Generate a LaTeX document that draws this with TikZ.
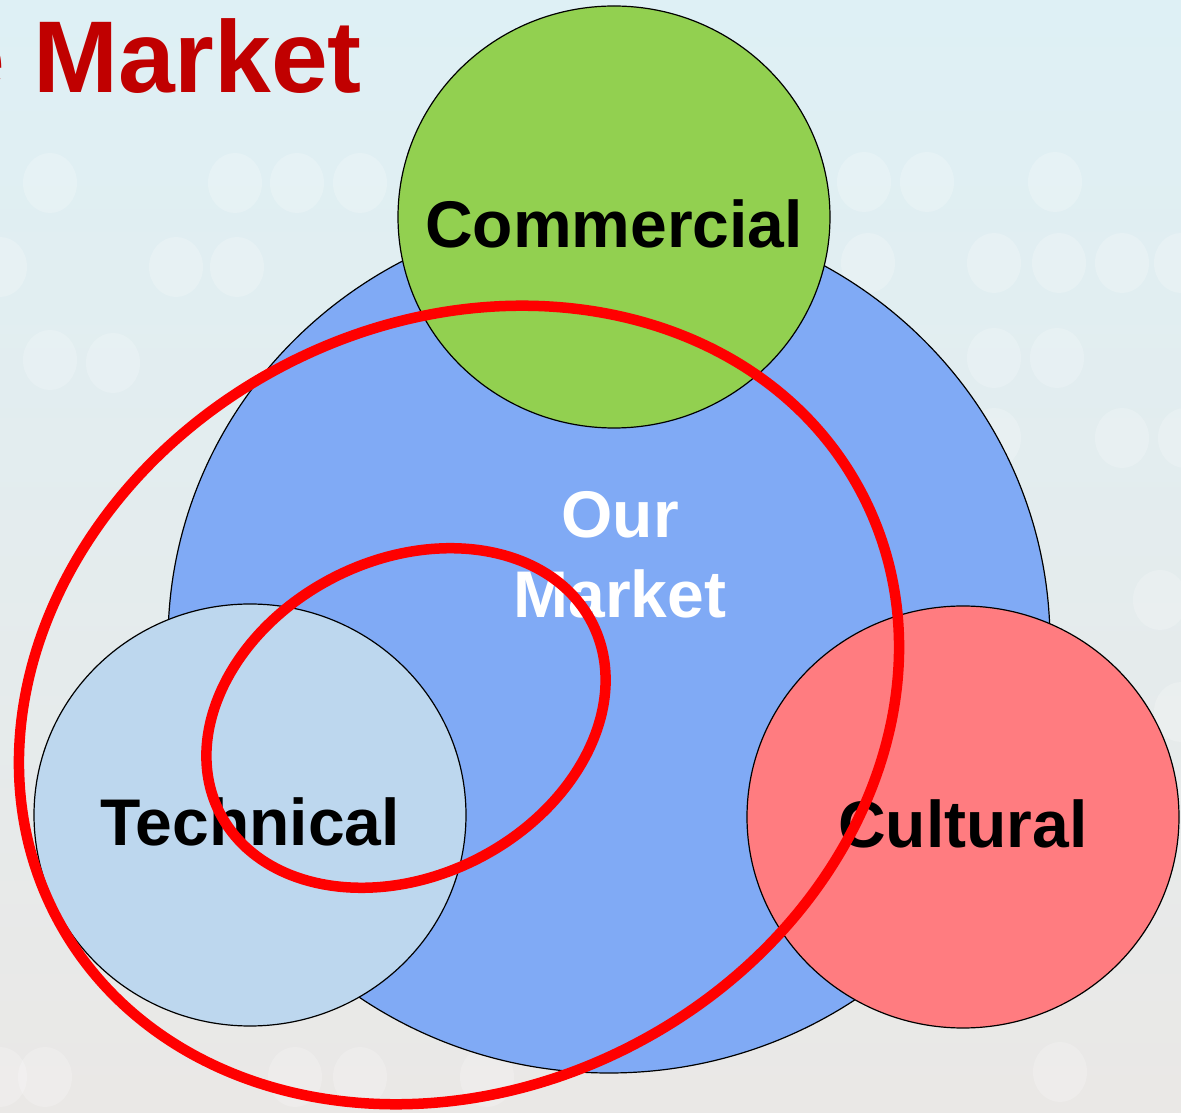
\documentclass[tikz,border=0pt]{standalone}
\usepackage{fontspec}
\setmainfont{Liberation Sans}
\usetikzlibrary{shapes.geometric}

\definecolor{titlered}{HTML}{C00000}
\definecolor{marketblue}{HTML}{80AAF5}
\definecolor{commercialgreen}{HTML}{92D050}
\definecolor{technicalblue}{HTML}{BDD7EE}
\definecolor{culturalred}{HTML}{FF7C80}
\definecolor{bgtop}{RGB}{222,240,245}
\definecolor{bgmid}{RGB}{206,224,230}
\definecolor{bgbottom}{RGB}{234,232,230}

\tikzset{
  bubble/.style={ellipse, draw=black, line width=1.2pt,
    inner xsep=-60pt, inner ysep=0pt,
    minimum width=432pt, minimum height=422pt,
    text height=62pt, text depth=0pt,
    font=\fontsize{66}{80}\selectfont\bfseries},
  redring/.style={draw=red, line width=10.5pt},
  bokeh/.style={fill=white, opacity=.2}
}

\begin{document}
\begin{tikzpicture}[x=1pt,y=1pt]
\useasboundingbox (0,0) rectangle (1181,1112);
\clip (0,0) rectangle (1181,1112);
\shade[top color=bgtop, middle color=bgmid, bottom color=bgbottom] (0,0) rectangle (1181,1112);
\foreach \x/\y in {50/929, 235/929, 297/929, 360/929, 864/930, 927/930, 1055/930,
  0/845, 176/845, 237/845, 868/849, 994/849, 1059/849, 1122/849, 1181/849,
  50/752, 113/749, 994/754, 1057/754, 994/674, 1122/674, 1185/674,
  1160/512, 1181/400, 0/35, 45/35, 295/35, 360/35, 487/35, 1060/40}
  \fill[bokeh] (\x,\y) ellipse (27 and 30);

\node (title) [anchor=base west, inner sep=0pt, text=titlered,
  font=\fontsize{102}{0}\selectfont\bfseries] at (-52,1019) {e Market};

\node (market) [bubble, fill=marketblue, minimum width=882pt, minimum height=862pt] at (609,470) {};
\node (commercial) [bubble, fill=commercialgreen] at (614,895) {Commercial};
\node (technical) [bubble, fill=technicalblue] at (250,297) {Technical};
\node (cultural) [bubble, fill=culturalred] at (963,295) {Cultural};
\node (ourmarket) [align=center, inner sep=0pt, text=white,
  font=\fontsize{66}{80}\selectfont\bfseries] at (620,557) {Our\\Market};

\coordinate (bigring) at (459,407);
\coordinate (smallring) at (406,394);
\draw[redring] (bigring) circle [x radius=455, y radius=382, rotate=28];
\draw[redring] (smallring) circle [x radius=209, y radius=158, rotate=27];
\end{tikzpicture}
\end{document}
